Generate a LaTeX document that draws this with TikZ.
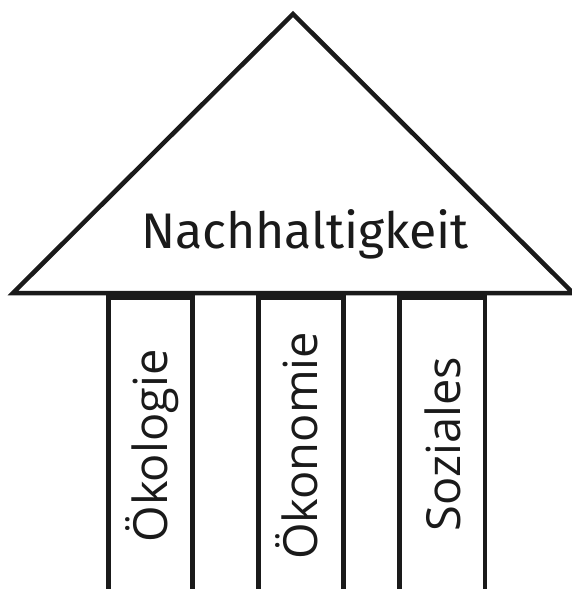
\documentclass[tikz,border=0pt]{standalone}
\usepackage{fontspec}
\newfontfamily\topfont{Fira Sans}
\newfontfamily\pilfont{Open Sans}
\definecolor{ink}{HTML}{1A1A1A}
\begin{document}
\begin{tikzpicture}[x=1pt,y=-1pt,
  edge/.style={draw=ink,line width=4.5pt,line join=miter},
  roof/.style={font=\topfont\fontsize{50}{60}\selectfont,text=ink,inner sep=0pt,anchor=base},
  pillartext/.style={font=\pilfont\fontsize{47}{56}\selectfont,text=ink,inner sep=0pt,anchor=base,rotate=90}]
\useasboundingbox[fill=white] (0,0) rectangle (571,589);
% roof
\coordinate (apex) at (293,14);
\coordinate (bl) at (13,293);
\coordinate (br) at (573,293);
\draw[edge] (bl) -- (apex) -- (br) -- cycle;
% pillars
\foreach \n/\l/\r in {p1/108.5/192.5, p2/258.5/343.5, p3/399.5/485}{
  \coordinate (\n a) at (\l,610);
  \coordinate (\n b) at (\l,297.5);
  \coordinate (\n c) at (\r,297.5);
  \coordinate (\n d) at (\r,610);
  \draw[edge] (\n a) -- (\n b) -- (\n c) -- (\n d);
}
\node[roof] (title) at (305,248) {Nachhaltigkeit};
\node[pillartext] (oek) at (167,446) {Ökologie};
\node[pillartext] (oko) at (317,446) {Ökonomie};
\node[pillartext] (soz) at (460,444) {Soziales};
\end{tikzpicture}
\end{document}
